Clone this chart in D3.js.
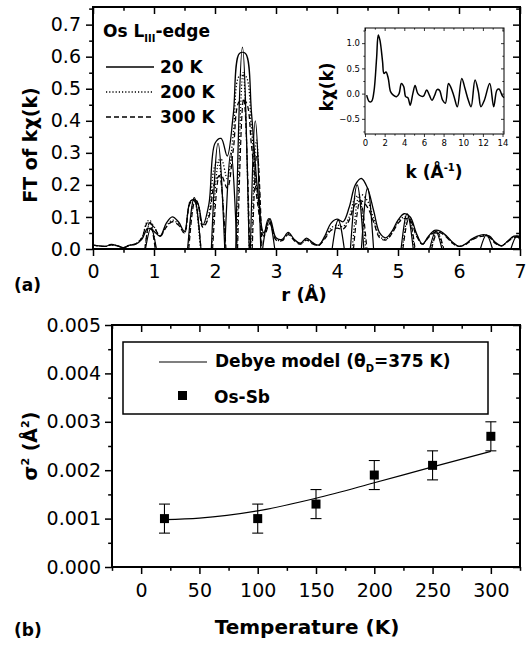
<!DOCTYPE html>
<html>
<head>
<meta charset="utf-8">
<script src="https://cdnjs.cloudflare.com/ajax/libs/d3/7.8.5/d3.min.js"></script>
<style>
  body { margin: 0; background: #fff; }
  text { font-family: "DejaVu Sans", "Liberation Sans", Arial, sans-serif; fill: #000; }
</style>
</head>
<body>
<div class="canvas"></div>
<script>
// ---- panel (a): FT magnitude, r grid 0..7 step 0.1
const rValues = [0.0,0.1,0.2,0.3,0.4,0.5,0.6,0.7,0.8,0.9,1.0,1.1,1.2,1.3,1.4,1.5,1.6,1.7,1.8,1.9,
  2.0,2.1,2.2,2.3,2.4,2.5,2.6,2.7,2.8,2.9,3.0,3.1,3.2,3.3,3.4,3.5,3.6,3.7,3.8,3.9,
  4.0,4.1,4.2,4.3,4.4,4.5,4.6,4.7,4.8,4.9,5.0,5.1,5.2,5.3,5.4,5.5,5.6,5.7,5.8,5.9,
  6.0,6.1,6.2,6.3,6.4,6.5,6.6,6.7,6.8,6.9,7.0];
const mag20 = [0.012,0.010,0.008,0.014,0.010,0.004,0.012,0.015,0.030,0.065,0.055,0.040,0.080,0.100,0.085,0.055,0.150,0.150,0.075,0.140,
  0.330,0.345,0.290,0.420,0.610,0.610,0.420,0.180,0.050,0.095,0.035,0.030,0.052,0.030,0.018,0.034,0.020,0.012,0.040,0.080,
  0.093,0.085,0.130,0.200,0.220,0.190,0.120,0.050,0.035,0.055,0.090,0.110,0.100,0.050,0.015,0.040,0.058,0.055,0.040,0.020,
  0.008,0.015,0.030,0.040,0.045,0.040,0.020,0.010,0.025,0.040,0.040];
const mag200 = [0.012,0.010,0.008,0.013,0.010,0.004,0.012,0.016,0.035,0.088,0.070,0.040,0.070,0.090,0.078,0.050,0.150,0.150,0.070,0.110,
  0.260,0.280,0.220,0.360,0.540,0.540,0.370,0.160,0.045,0.085,0.030,0.028,0.048,0.028,0.016,0.030,0.018,0.012,0.035,0.065,
  0.075,0.070,0.100,0.160,0.170,0.150,0.095,0.040,0.030,0.050,0.085,0.100,0.095,0.045,0.015,0.038,0.055,0.052,0.038,0.018,
  0.008,0.014,0.028,0.038,0.042,0.038,0.018,0.010,0.024,0.038,0.038];
const mag300 = [0.012,0.010,0.008,0.013,0.010,0.004,0.012,0.016,0.035,0.083,0.068,0.040,0.068,0.085,0.075,0.050,0.145,0.145,0.068,0.100,
  0.210,0.230,0.190,0.310,0.460,0.460,0.320,0.140,0.040,0.080,0.028,0.026,0.045,0.026,0.015,0.028,0.016,0.012,0.032,0.058,
  0.065,0.062,0.090,0.140,0.150,0.130,0.085,0.035,0.028,0.048,0.080,0.095,0.090,0.042,0.015,0.036,0.052,0.050,0.036,0.017,
  0.008,0.013,0.027,0.036,0.040,0.036,0.017,0.010,0.023,0.036,0.036];
// positive lobes of the real part: [start r, peak r, peak value, end r]
const lobes20 = [[0.86,0.95,0.065,1.04],[1.55,1.66,0.160,1.77],[1.94,2.05,0.330,2.16],[2.16,2.26,0.300,2.36],
  [2.34,2.45,0.630,2.56],[2.58,2.66,0.400,2.75],[2.78,2.88,0.095,2.98],[3.92,4.02,0.090,4.12],
  [4.22,4.33,0.200,4.44],[4.40,4.50,0.190,4.60],[5.05,5.15,0.110,5.25],[5.52,5.62,0.055,5.72],
  [6.35,6.45,0.044,6.55],[6.85,6.95,0.040,7.05]];
const lobes200 = [[0.85,0.94,0.088,1.03],[1.56,1.66,0.155,1.76],[1.95,2.06,0.270,2.17],[2.36,2.46,0.550,2.56],
  [2.60,2.68,0.340,2.76],[4.25,4.36,0.165,4.47],[5.07,5.17,0.100,5.27],[5.54,5.64,0.052,5.74]];
const lobes300 = [[0.85,0.93,0.082,1.02],[1.57,1.67,0.148,1.77],[1.96,2.07,0.230,2.18],[2.37,2.47,0.470,2.57],
  [2.61,2.69,0.300,2.77],[4.27,4.38,0.150,4.49],[5.08,5.18,0.095,5.28],[5.55,5.65,0.050,5.75]];
const seriesLabels = ['20 K', '200 K', '300 K'];

// ---- inset: k chi(k)
const kValues = [0.17,0.44,0.68,0.91,1.18,1.35,1.52,1.79,1.93,2.14,2.37,2.60,2.88,3.20,3.47,3.70,3.94,4.14,4.37,4.60,
  4.87,5.10,5.38,5.72,5.95,6.28,6.55,6.82,7.10,7.33,7.57,7.90,8.18,8.50,8.73,9.07,9.40,9.85,10.18,10.52,
  10.80,11.20,11.54,11.80,12.15,12.70,13.10,13.43,13.64,14.00,14.15];
const kchi = [-0.03,-0.16,-0.15,0.04,0.70,1.16,1.06,0.63,0.40,0.43,0.30,0.04,-0.03,-0.06,0.00,0.20,0.14,-0.06,-0.08,-0.23,
  0.00,0.16,0.00,-0.05,-0.05,0.07,-0.03,-0.13,-0.03,0.08,0.07,-0.13,-0.19,0.20,0.13,-0.06,-0.26,0.30,0.10,-0.13,
  -0.26,0.27,0.04,-0.26,-0.13,0.20,-0.26,0.07,0.09,-0.05,-0.08];

// ---- panel (b): sigma^2 vs temperature
const tempPoints = [20, 100, 150, 200, 250, 300];
const sigmaPoints = [0.0010, 0.0010, 0.0013, 0.0019, 0.0021, 0.0027];
const sigmaErr = [0.0003, 0.0003, 0.0003, 0.0003, 0.0003, 0.0003];
const debyeT = [20, 50, 100, 150, 200, 250, 300];
const debyeSigma = [0.00098, 0.00101, 0.00116, 0.00142, 0.00174, 0.00207, 0.00239];

const svg = d3.select('.canvas').append('svg')
  .attr('width', 531).attr('height', 645)
  .style('background', '#fff');

// draw ticks for a box; left/bottom outward, top/right inward
function frame(g, x, y, o) {
  const [x0, x1] = x.range(), [y0, y1] = y.range();
  const sides = [
    { ax: d3.axisBottom(x), t: `translate(0,${y0})`, s: 1, lab: true, vals: o.xMajor, minor: o.xMinor, fmt: o.xFmt, pad: o.xpad },
    { ax: d3.axisTop(x), t: `translate(0,${y1})`, s: -1, lab: false, vals: o.xMajor, minor: o.xMinor },
    { ax: d3.axisLeft(y), t: `translate(${x0},0)`, s: 1, lab: true, vals: o.yMajor, minor: o.yMinor, fmt: o.yFmt, pad: o.ypad },
    { ax: d3.axisRight(y), t: `translate(${x1},0)`, s: -1, lab: false, vals: o.yMajor, minor: o.yMinor }
  ];
  sides.forEach(sd => {
    const major = g.append('g').attr('transform', sd.t)
      .call(sd.ax.tickValues(sd.vals).tickSize(sd.s * o.tick).tickSizeOuter(0)
        .tickPadding(sd.pad || 3).tickFormat(sd.lab ? sd.fmt : () => ''));
    major.select('.domain').remove();
    major.selectAll('line').attr('stroke-width', o.tw);
    major.selectAll('text').style('font-size', o.fs + 'px').style('font-family', '"DejaVu Sans", sans-serif');
    const minor = g.append('g').attr('transform', sd.t)
      .call(sd.ax.tickValues(sd.minor).tickSize(sd.s * o.tick * 0.55).tickFormat(() => ''));
    minor.select('.domain').remove();
    minor.selectAll('line').attr('stroke-width', o.tw);
  });
  g.append('rect').attr('x', x0).attr('y', y1).attr('width', x1 - x0).attr('height', y0 - y1)
    .attr('fill', 'none').attr('stroke', '#000').attr('stroke-width', o.fw);
}

// ================= panel (a)
const xR = d3.scaleLinear().domain([0, 7]).range([93, 520]);
const yF = d3.scaleLinear().domain([0, 0.755]).range([249, 7]);
const panelA = svg.append('g');

svg.append('clipPath').attr('id', 'clipA').append('rect')
  .attr('x', 93).attr('y', 7).attr('width', 427).attr('height', 242);

const dashes = ['none', '1.2,2', '5,3'];
const mags = [mag20, mag200, mag300];
const lobes = [lobes20, lobes200, lobes300];
const curves = panelA.append('g').attr('clip-path', 'url(#clipA)');
const magLine = d3.line().x((d, i) => xR(rValues[i])).y(d => yF(d)).curve(d3.curveCatmullRom);
const lobeLine = d3.line().x(d => xR(d[0])).y(d => yF(d[1])).curve(d3.curveMonotoneX);

mags.forEach((m, s) => {
  curves.append('path').datum(m).attr('d', magLine)
    .attr('fill', 'none').attr('stroke', '#000').attr('stroke-width', 1.3)
    .attr('stroke-dasharray', dashes[s]);
  curves.selectAll(null).data(lobes[s]).enter().append('path')
    .attr('d', l => lobeLine([[l[0], 0], [l[1], l[2]], [l[3], 0]]))
    .attr('fill', 'none').attr('stroke', '#000').attr('stroke-width', 1.2)
    .attr('stroke-dasharray', dashes[s]);
});

frame(panelA, xR, yF, {
  xMajor: d3.range(0, 8, 1), xMinor: d3.range(0.5, 7, 1), xFmt: d3.format('d'),
  yMajor: d3.range(0, 0.71, 0.1), yMinor: d3.range(0.05, 0.76, 0.1), yFmt: d3.format('.1f'),
  tick: 7, xpad: 9, ypad: 5, fs: 19, tw: 1.5, fw: 2
});

panelA.append('text').attr('transform', 'translate(37,145) rotate(-90)')
  .attr('text-anchor', 'middle').style('font-size', '19px').style('font-weight', 'bold')
  .text('FT of kχ(k)');
panelA.append('text').attr('x', 304).attr('y', 301).attr('text-anchor', 'middle')
  .style('font-size', '18px').style('font-weight', 'bold').text('r (Å)');
panelA.append('text').attr('x', 14).attr('y', 291).style('font-size', '17px').style('font-weight', 'bold').text('(a)');

// legend (a)
const leg = panelA.append('g');
const title = leg.append('text').attr('x', 103).attr('y', 37).style('font-size', '17px').style('font-weight', 'bold');
title.append('tspan').text('Os L');
title.append('tspan').attr('dy', 5).style('font-size', '10px').text('III');
title.append('tspan').attr('dy', -5).text('-edge');
const legY = [67, 92, 117];
seriesLabels.forEach((lab, i) => {
  leg.append('line').attr('x1', 106).attr('x2', 154).attr('y1', legY[i]).attr('y2', legY[i])
    .attr('stroke', '#000').attr('stroke-width', 1.3).attr('stroke-dasharray', dashes[i]);
  leg.append('text').attr('x', 160).attr('y', legY[i] + 6).style('font-size', '17px')
    .style('font-weight', 'bold').text(lab);
});

// inset
const xK = d3.scaleLinear().domain([0, 14.15]).range([365, 504]);
const yK = d3.scaleLinear().domain([-0.8, 1.3]).range([134, 28]);
const inset = panelA.append('g');
inset.append('rect').attr('x', 365).attr('y', 28).attr('width', 139).attr('height', 106).attr('fill', '#fff');
inset.append('path').datum(kchi)
  .attr('d', d3.line().x((d, i) => xK(kValues[i])).y(d => yK(d)).curve(d3.curveCatmullRom))
  .attr('fill', 'none').attr('stroke', '#000').attr('stroke-width', 1.5);
frame(inset, xK, yK, {
  xMajor: d3.range(0, 15, 2), xMinor: d3.range(1, 14.1, 2), xFmt: d3.format('d'),
  yMajor: [-0.5, 0, 0.5, 1.0], yMinor: [-0.75, -0.25, 0.25, 0.75, 1.25], yFmt: d3.format('.1f'),
  tick: 3, xpad: 3, ypad: 2, fs: 8.5, tw: 0.8, fw: 1
});
inset.append('text').attr('transform', 'translate(333,87) rotate(-90)')
  .attr('text-anchor', 'middle').style('font-size', '17px').style('font-weight', 'bold').text('kχ(k)');
const kLab = inset.append('text').attr('x', 434).attr('y', 178).attr('text-anchor', 'middle')
  .style('font-size', '17px').style('font-weight', 'bold');
kLab.append('tspan').text('k (Å');
kLab.append('tspan').attr('dy', -7).style('font-size', '10px').text('-1');
kLab.append('tspan').attr('dy', 7).text(')');

// ================= panel (b)
const xT = d3.scaleLinear().domain([-25, 325]).range([112, 520]);
const yS = d3.scaleLinear().domain([0, 0.005]).range([567, 325]);
const panelB = svg.append('g');

frame(panelB, xT, yS, {
  xMajor: d3.range(0, 301, 50), xMinor: [-25].concat(d3.range(25, 326, 50)), xFmt: d3.format('d'),
  yMajor: d3.range(0, 0.0051, 0.001), yMinor: d3.range(0.0005, 0.005, 0.001), yFmt: d3.format('.3f'),
  tick: 7, xpad: 10, ypad: 4, fs: 19, tw: 1.5, fw: 2
});

panelB.append('path').datum(debyeSigma)
  .attr('d', d3.line().x((d, i) => xT(debyeT[i])).y(d => yS(d)).curve(d3.curveMonotoneX))
  .attr('fill', 'none').attr('stroke', '#000').attr('stroke-width', 1.2);

const pts = panelB.selectAll('.pt').data(tempPoints).enter().append('g').attr('class', 'pt');
pts.append('line').attr('x1', d => xT(d)).attr('x2', d => xT(d))
  .attr('y1', (d, i) => yS(sigmaPoints[i] - sigmaErr[i])).attr('y2', (d, i) => yS(sigmaPoints[i] + sigmaErr[i]))
  .attr('stroke', '#000').attr('stroke-width', 1.1);
[-1, 1].forEach(sg => {
  pts.append('line').attr('x1', d => xT(d) - 5.5).attr('x2', d => xT(d) + 5.5)
    .attr('y1', (d, i) => yS(sigmaPoints[i] + sg * sigmaErr[i])).attr('y2', (d, i) => yS(sigmaPoints[i] + sg * sigmaErr[i]))
    .attr('stroke', '#000').attr('stroke-width', 1.1);
});
pts.append('rect').attr('x', d => xT(d) - 4.5).attr('y', (d, i) => yS(sigmaPoints[i]) - 4.5)
  .attr('width', 9).attr('height', 9).attr('fill', '#000');

// legend (b)
const legB = panelB.append('g');
legB.append('rect').attr('x', 123).attr('y', 342).attr('width', 365).attr('height', 72)
  .attr('fill', '#fff').attr('stroke', '#000').attr('stroke-width', 1.5);
legB.append('line').attr('x1', 159).attr('x2', 207).attr('y1', 362).attr('y2', 362)
  .attr('stroke', '#000').attr('stroke-width', 1.2);
const dTxt = legB.append('text').attr('x', 215).attr('y', 367).style('font-size', '17px').style('font-weight', 'bold');
dTxt.append('tspan').text('Debye model (θ');
dTxt.append('tspan').attr('dy', 5).style('font-size', '10px').text('D');
dTxt.append('tspan').attr('dy', -5).text('=375 K)');
legB.append('rect').attr('x', 178).attr('y', 391).attr('width', 9).attr('height', 9).attr('fill', '#000');
legB.append('text').attr('x', 214).attr('y', 403).style('font-size', '17px').style('font-weight', 'bold').text('Os-Sb');

const sLab = panelB.append('text').attr('transform', 'translate(37,446) rotate(-90)')
  .attr('text-anchor', 'middle').style('font-size', '19px').style('font-weight', 'bold');
sLab.append('tspan').text('σ');
sLab.append('tspan').attr('dy', -8).style('font-size', '11px').text('2');
sLab.append('tspan').attr('dy', 8).text(' (Å');
sLab.append('tspan').attr('dy', -8).style('font-size', '11px').text('2');
sLab.append('tspan').attr('dy', 8).text(')');
panelB.append('text').attr('x', 307).attr('y', 634).attr('text-anchor', 'middle')
  .style('font-size', '20px').style('font-weight', 'bold').text('Temperature (K)');
panelB.append('text').attr('x', 14).attr('y', 636).style('font-size', '17px').style('font-weight', 'bold').text('(b)');
</script>
</body>
</html>
